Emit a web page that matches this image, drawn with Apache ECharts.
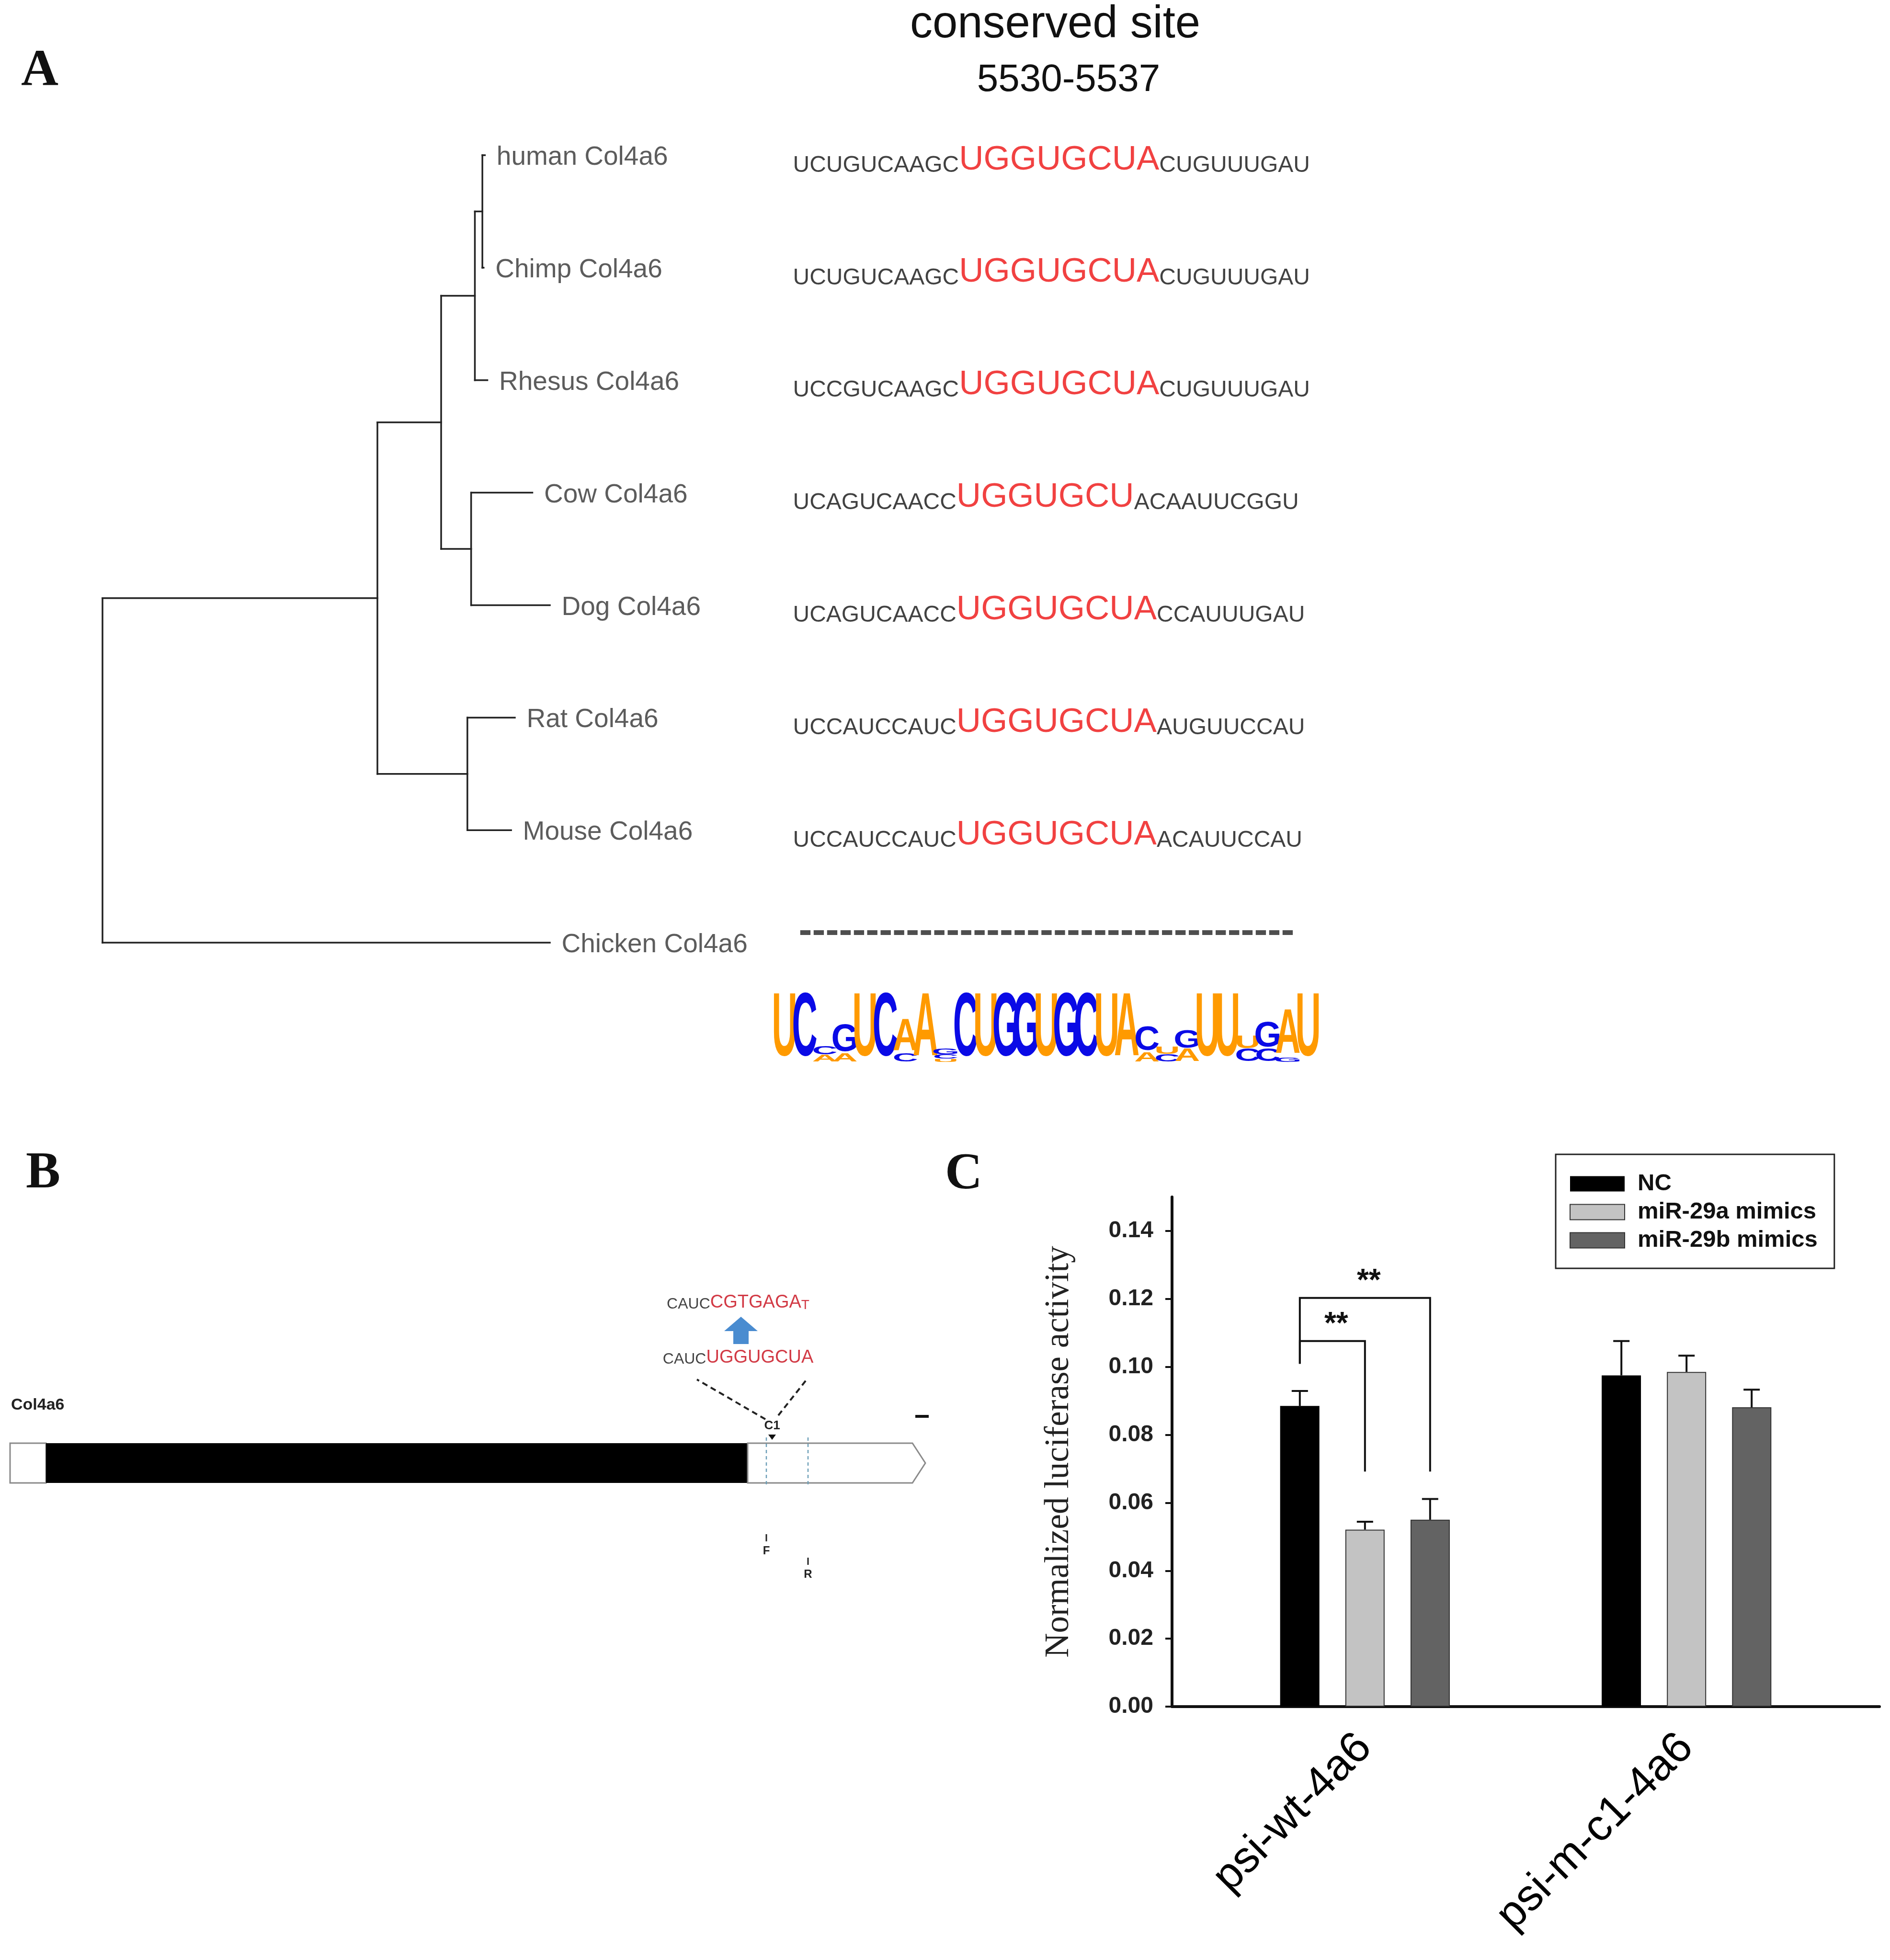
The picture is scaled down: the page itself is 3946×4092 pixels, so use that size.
<!DOCTYPE html>
<html>
<head>
<meta charset="utf-8">
<script src="https://cdn.jsdelivr.net/npm/echarts@6/dist/echarts.min.js"></script>
<style>
html, body { margin: 0; padding: 0; background: #fff; }
#main { width: 3946px; height: 4092px; }
</style>
</head>
<body>
<div id="main"></div>
<script>
// ---------- panel A : tree + alignment ----------
const taxa = ['human Col4a6', 'Chimp Col4a6', 'Rhesus Col4a6', 'Cow Col4a6', 'Dog Col4a6', 'Rat Col4a6', 'Mouse Col4a6', 'Chicken Col4a6'];
const tipDepth = [306, 305, 308, 344, 358, 330, 327, 358];
// internal nodes (id = 8 + index): [depth, child, child]
const innerNodes = [[304, 0, 1], [298, 8, 2], [295, 3, 4], [271, 9, 10], [292, 5, 6], [220, 11, 12], [0, 13, 7]];
const seqLeft = ['UCUGUCAAGC', 'UCUGUCAAGC', 'UCCGUCAAGC', 'UCAGUCAACC', 'UCAGUCAACC', 'UCCAUCCAUC', 'UCCAUCCAUC', '-------------------------------------'];
const seqSite = ['UGGUGCUA', 'UGGUGCUA', 'UGGUGCUA', 'UGGUGCU', 'UGGUGCUA', 'UGGUGCUA', 'UGGUGCUA', ''];
const seqRight = ['CUGUUUGAU', 'CUGUUUGAU', 'CUGUUUGAU', 'ACAAUUCGGU', 'CCAUUUGAU', 'AUGUUCCAU', 'ACAUUCCAU', ''];
// sequence logo, each column bottom -> top : [letter, relative height]
const logoColumns = [
  [['U', 1]], [['C', 1]], [['A', 0.11], ['C', 0.13]], [['A', 0.13], ['G', 0.43]],
  [['U', 1]], [['C', 1]], [['C', 0.13], ['A', 0.5]], [['A', 1]],
  [['U', 0.05], ['C', 0.07], ['G', 0.09]], [['C', 1]], [['U', 1]], [['G', 1]],
  [['G', 1]], [['U', 1]], [['G', 1]], [['C', 1]], [['U', 1]], [['A', 1]],
  [['A', 0.15], ['C', 0.38]], [['C', 0.12], ['U', 0.12]], [['A', 0.2], ['G', 0.28]],
  [['U', 1]], [['U', 1]], [['C', 0.2], ['U', 0.2]], [['C', 0.2], ['G', 0.4]],
  [['G', 0.07], ['A', 0.7]], [['U', 1]]
];

// ---------- panel B : gene map ----------
const geneParts = [['utr5', 0, 75], ['cds', 75, 1540], ['utr3', 1540, 1911]];
const sites = [['C1', 1591]];
const siteWild = ['CAUC', 'UGGUGCUA'];
const siteMutant = ['CAUC', 'CGTGAGA', 'T'];
const primers = [['F', 1579, 0], ['R', 1666, 1]];

// ---------- panel C : luciferase ----------
const constructs = ['psi-wt-4a6', 'psi-m-c1-4a6'];
const groups = ['NC', 'miR-29a mimics', 'miR-29b mimics'];
const meanNC = [0.0885, 0.0975];
const mean29a = [0.0521, 0.0985];
const mean29b = [0.0550, 0.0881];
const errNC = [0.0044, 0.0101];
const err29a = [0.0023, 0.0048];
const err29b = [0.0061, 0.0052];
// [construct, fromBar, toBar, top, leftEnd, rightEnd, mark]
const brackets = [[1, 0, 1, 0.1076, 0.1009, 0.0692, '**'], [1, 0, 2, 0.1203, 0.1009, 0.0692, '**']];
const yTicks = [0, 0.02, 0.04, 0.06, 0.08, 0.10, 0.12, 0.14];

const sans = "'Liberation Sans', Arial, sans-serif";
const serif = "'Liberation Serif', 'Times New Roman', serif";

// tree layout: node y = mean of children
const nodeX = {}, nodeY = {};
taxa.forEach((t, i) => { nodeX[i] = tipDepth[i]; nodeY[i] = i; });
innerNodes.forEach((n, k) => { nodeX[8 + k] = n[0]; nodeY[8 + k] = (nodeY[n[1]] + nodeY[n[2]]) / 2; });
const treeSegments = [];
innerNodes.forEach(n => {
  treeSegments.push([n[0], nodeY[n[1]], n[0], nodeY[n[2]]]);
  [n[1], n[2]].forEach(c => treeSegments.push([n[0], nodeY[c], nodeX[c], nodeY[c]]));
});

const logoItems = [];
logoColumns.forEach((stack, c) => {
  let y0 = 0;
  stack.forEach(([ch, h]) => { logoItems.push([c + 1, y0, h, ch]); y0 += h; });
});

const barMeans = [meanNC, mean29a, mean29b];
const barErrs = [errNC, err29a, err29b];
const barColors = ['#000000', '#c3c3c3', '#636363'];
const barStep = 136;   // bar width + gap in px
const errItems = [];
barMeans.forEach((m, s) => m.forEach((v, g) => errItems.push([g + 1, v, barErrs[s][g], s])));

function hiddenAxis(gridIndex, min, max, inverse) {
  return { type: 'value', gridIndex: gridIndex, min: min, max: max, inverse: !!inverse, show: false, splitLine: { show: false } };
}

const myChart = echarts.init(document.getElementById('main'));

const option = {
  animation: false,
  backgroundColor: '#ffffff',
  grid: [
    { left: 214, top: 324, width: 934, height: 1644 },     // tree
    { left: 1655, top: 324, width: 1100, height: 1644 },   // alignment
    { left: 1617, top: 2084, width: 1135, height: 134 },   // logo
    { left: 21, top: 3013, width: 1920, height: 83 },      // gene map
    { left: 2447, top: 2499, width: 1477, height: 1064 }   // bar chart
  ],
  xAxis: [
    hiddenAxis(0, 0, 358),
    hiddenAxis(1, 0, 1),
    hiddenAxis(2, 0.5, 27.5),
    hiddenAxis(3, 0, 1920),
    {
      type: 'value', gridIndex: 4, min: 0.4, max: 2.6,
      axisLine: { show: true, onZero: false, lineStyle: { color: '#111', width: 6 } },
      axisTick: { show: false },
      splitLine: { show: false },
      axisLabel: {
        customValues: [1, 2],
        formatter: v => (Math.abs(v - Math.round(v)) < 1e-6 && constructs[Math.round(v) - 1]) || '',
        rotate: 45, margin: 72, fontSize: 92, fontFamily: sans, color: '#000'
      }
    }
  ],
  yAxis: [
    hiddenAxis(0, 0, 7, true),
    hiddenAxis(1, 0, 7, true),
    hiddenAxis(2, 0, 1),
    hiddenAxis(3, 0, 1),
    {
      type: 'value', gridIndex: 4, min: 0, max: 0.15, interval: 0.02,
      axisLine: { show: true, lineStyle: { color: '#111', width: 6 } },
      axisTick: { show: true, length: 14, customValues: yTicks, lineStyle: { color: '#111', width: 4 } },
      splitLine: { show: false },
      axisLabel: {
        customValues: yTicks,
        formatter: v => (v > 0.145 ? '' : v.toFixed(2)),
        margin: 39, fontSize: 48, fontWeight: 'bold', fontFamily: sans, color: '#222'
      },
      name: 'Normalized luciferase activity',
      nameLocation: 'middle', nameGap: 200,
      nameTextStyle: { fontFamily: serif, fontSize: 71, color: '#222' }
    }
  ],
  legend: {
    data: groups, orient: 'vertical', left: 3248, top: 2410,
    icon: 'rect', itemWidth: 114, itemHeight: 32, itemGap: 10,
    padding: [37, 35, 34, 29], borderColor: '#222', borderWidth: 3,
    selectedMode: false,
    textStyle: { fontSize: 49, fontWeight: 'bold', fontFamily: sans, color: '#111', padding: [0, 0, 0, 22] }
  },
  graphic: [
    { type: 'text', x: 83, y: 150, style: { text: 'A', font: 'bold 108px ' + serif, fill: '#111', align: 'center', verticalAlign: 'middle' } },
    { type: 'text', x: 90, y: 2451, style: { text: 'B', font: 'bold 108px ' + serif, fill: '#111', align: 'center', verticalAlign: 'middle' } },
    { type: 'text', x: 2012, y: 2453, style: { text: 'C', font: 'bold 108px ' + serif, fill: '#111', align: 'center', verticalAlign: 'middle' } },
    { type: 'text', x: 2203, y: 52, style: { text: 'conserved site', font: '94px ' + sans, fill: '#111', align: 'center', verticalAlign: 'middle' } },
    { type: 'text', x: 2231, y: 168, style: { text: '5530-5537', font: '80px ' + sans, fill: '#111', align: 'center', verticalAlign: 'middle' } },
    { type: 'text', x: 23, y: 2934, style: { text: 'Col4a6', font: 'bold 34px ' + sans, fill: '#222', align: 'left', verticalAlign: 'middle' } },
    { type: 'line', shape: { x1: 1911, y1: 2957, x2: 1939, y2: 2957 }, style: { stroke: '#111', lineWidth: 6 } }
  ],
  series: [
    // tree branches
    {
      type: 'custom', xAxisIndex: 0, yAxisIndex: 0, silent: true, data: treeSegments,
      encode: { x: [0, 2], y: [1, 3] },
      renderItem: (params, api) => {
        const a = api.coord([api.value(0), api.value(1)]);
        const b = api.coord([api.value(2), api.value(3)]);
        return { type: 'line', shape: { x1: a[0], y1: a[1], x2: b[0], y2: b[1] }, style: { stroke: '#222', lineWidth: 3.5, lineCap: 'square' } };
      }
    },
    // taxon names
    {
      type: 'scatter', xAxisIndex: 0, yAxisIndex: 0, silent: true,
      data: tipDepth.map((d, i) => [d, i]),
      symbolSize: 1, itemStyle: { color: 'transparent' },
      label: {
        show: true, position: 'right', distance: 24, offset: [0, 5],
        formatter: p => taxa[p.dataIndex],
        fontSize: 55, fontFamily: sans, color: '#333'
      }
    },
    // aligned sequences
    {
      type: 'scatter', xAxisIndex: 1, yAxisIndex: 1, silent: true,
      data: seqLeft.map((s, i) => (s.charAt(0) === '-'
        ? { value: [0, i], label: { offset: [12, -22] } }
        : { value: [0, i] })),
      symbolSize: 1, itemStyle: { color: 'transparent' },
      label: {
        show: true, position: 'right', distance: 0, offset: [0, 10],
        formatter: p => {
          const i = p.dataIndex;
          if (seqLeft[i].charAt(0) === '-') return '{g|' + seqLeft[i] + '}';
          return '{s|' + seqLeft[i] + '}{r|' + seqSite[i] + '}{s|' + seqRight[i] + '}';
        },
        rich: {
          s: { fontSize: 48, fontFamily: sans, color: '#111', verticalAlign: 'bottom' },
          r: { fontSize: 71, fontFamily: sans, color: '#ee1111', verticalAlign: 'bottom' },
          g: { fontSize: 84, fontFamily: sans, fontWeight: 'bold', color: '#222' }
        }
      }
    },
    // sequence logo
    {
      type: 'custom', xAxisIndex: 2, yAxisIndex: 2, silent: true,
      data: logoItems.map(d => [d[0], d[1], d[2]]),
      encode: { x: 0, y: 1 },
      renderItem: (params, api) => {
        const it = logoItems[params.dataIndex];
        const p0 = api.coord([it[0], it[1]]);
        const p1 = api.coord([it[0], it[1] + it[2]]);
        const hPx = p0[1] - p1[1];
        const orange = it[3] === 'A' || it[3] === 'U';
        return {
          type: 'text', x: p0[0], y: (p0[1] + p1[1]) / 2, scaleX: 1.15, scaleY: hPx / 45.8,
          style: { text: it[3], fontSize: 64, fontWeight: 'bold', fontFamily: sans, fill: orange ? '#ff9a00' : '#0a0ae6', align: 'center', verticalAlign: 'middle' }
        };
      }
    },
    // gene structure
    {
      type: 'custom', xAxisIndex: 3, yAxisIndex: 3, silent: true,
      data: geneParts.map(d => [d[1], d[2]]),
      encode: { x: [0, 1] },
      renderItem: (params, api) => {
        const kind = geneParts[params.dataIndex][0];
        const a = api.coord([api.value(0), 1]);
        const b = api.coord([api.value(1), 0]);
        if (kind === 'utr3') {
          const mid = (a[1] + b[1]) / 2;
          return { type: 'polygon', shape: { points: [[a[0], a[1]], [b[0] - 27, a[1]], [b[0], mid], [b[0] - 27, b[1]], [a[0], b[1]]] }, style: { fill: '#fff', stroke: '#8a8a8a', lineWidth: 3 } };
        }
        return {
          type: 'rect', shape: { x: a[0], y: a[1], width: b[0] - a[0], height: b[1] - a[1] },
          style: kind === 'cds' ? { fill: '#000' } : { fill: '#fff', stroke: '#8a8a8a', lineWidth: 3 }
        };
      }
    },
    // primers F / R
    {
      type: 'custom', xAxisIndex: 3, yAxisIndex: 3, silent: true,
      data: primers.map(d => [d[1], d[2]]),
      encode: { x: 0 },
      renderItem: (params, api) => {
        const x = api.coord([api.value(0), 1])[0];
        const top = api.coord([0, 1])[1];
        const bot = api.coord([0, 0])[1];
        const dy = api.value(1) * 49;
        return {
          type: 'group', children: [
            { type: 'line', shape: { x1: x, y1: top - 12, x2: x, y2: bot + 8 }, style: { stroke: '#6d9fb8', lineWidth: 2.5, lineDash: [7, 6] } },
            { type: 'line', shape: { x1: x, y1: bot + 107 + dy, x2: x, y2: bot + 122 + dy }, style: { stroke: '#222', lineWidth: 3 } },
            { type: 'text', x: x, y: bot + 142 + dy, style: { text: primers[params.dataIndex][0], font: 'bold 24px ' + sans, fill: '#222', align: 'center', verticalAlign: 'middle' } }
          ]
        };
      }
    },
    // target site C1 with wild-type / mutant sequences
    {
      type: 'custom', xAxisIndex: 3, yAxisIndex: 3, silent: true,
      data: sites.map(d => [d[1]]),
      encode: { x: 0 },
      renderItem: (params, api) => {
        const sx = api.coord([api.value(0), 1])[0];
        const ty = api.coord([0, 1])[1];
        const ax = sx - 65, aTop = ty - 264, aBot = ty - 207;
        const rich = {
          k: { fontSize: 32, fontFamily: sans, fill: '#444', verticalAlign: 'bottom' },
          r: { fontSize: 38, fontFamily: sans, fill: '#d23a45', verticalAlign: 'bottom' },
          t: { fontSize: 28, fontFamily: sans, fill: '#d23a45', verticalAlign: 'bottom' }
        };
        return {
          type: 'group', children: [
            { type: 'polygon', shape: { points: [[sx - 8, ty - 18], [sx + 8, ty - 18], [sx, ty - 7]] }, style: { fill: '#111' } },
            { type: 'text', x: sx, y: ty - 36, style: { text: sites[params.dataIndex][0], font: 'bold 26px ' + sans, fill: '#222', align: 'center', verticalAlign: 'middle' } },
            { type: 'line', shape: { x1: sx - 14, y1: ty - 50, x2: sx - 157, y2: ty - 133 }, style: { stroke: '#222', lineWidth: 4, lineDash: [12, 8] } },
            { type: 'line', shape: { x1: sx + 13, y1: ty - 58, x2: sx + 73, y2: ty - 134 }, style: { stroke: '#222', lineWidth: 4, lineDash: [12, 8] } },
            { type: 'text', x: sx - 71, y: ty - 178, style: { text: '{k|' + siteWild[0] + '}{r|' + siteWild[1] + '}', rich: rich, align: 'center', verticalAlign: 'middle' } },
            { type: 'polygon', shape: { points: [[ax, aTop], [ax + 35, aTop + 30], [ax + 16, aTop + 30], [ax + 16, aBot], [ax - 16, aBot], [ax - 16, aTop + 30], [ax - 35, aTop + 30]] }, style: { fill: '#4a8cd0' } },
            { type: 'text', x: sx - 71, y: ty - 293, style: { text: '{k|' + siteMutant[0] + '}{r|' + siteMutant[1] + '}{t|' + siteMutant[2] + '}', rich: rich, align: 'center', verticalAlign: 'middle' } }
          ]
        };
      }
    },
    // bars
    ...groups.map((name, s) => ({
      type: 'bar', name: name, xAxisIndex: 4, yAxisIndex: 4,
      data: barMeans[s].map((v, g) => [g + 1, v]),
      barWidth: 82, barGap: '66%',
      itemStyle: s === 0 ? { color: barColors[s] } : { color: barColors[s], borderColor: '#333', borderWidth: 2 }
    })),
    // error bars (upper only)
    {
      type: 'custom', xAxisIndex: 4, yAxisIndex: 4, silent: true,
      data: errItems, encode: { x: 0, y: 1 },
      renderItem: (params, api) => {
        const g = api.value(0), m = api.value(1), e = api.value(2), s = api.value(3);
        const lo = api.coord([g, m]);
        const hi = api.coord([g, m + e]);
        const x = lo[0] + (s - 1) * barStep;
        return {
          type: 'group', children: [
            { type: 'line', shape: { x1: x, y1: lo[1], x2: x, y2: hi[1] }, style: { stroke: '#111', lineWidth: 4 } },
            { type: 'line', shape: { x1: x - 17, y1: hi[1], x2: x + 17, y2: hi[1] }, style: { stroke: '#111', lineWidth: 4 } }
          ]
        };
      }
    },
    // significance brackets
    {
      type: 'custom', xAxisIndex: 4, yAxisIndex: 4, silent: true,
      data: brackets.map(b => [b[0], b[3]]), encode: { x: 0, y: 1 },
      renderItem: (params, api) => {
        const b = brackets[params.dataIndex];
        const base = api.coord([b[0], 0])[0];
        const xL = base + (b[1] - 1) * barStep;
        const xR = base + (b[2] - 1) * barStep;
        const yT = api.coord([b[0], b[3]])[1];
        const yL = api.coord([b[0], b[4]])[1];
        const yR = api.coord([b[0], b[5]])[1];
        return {
          type: 'group', children: [
            { type: 'polyline', shape: { points: [[xL, yL], [xL, yT], [xR, yT], [xR, yR]] }, style: { stroke: '#111', lineWidth: 4, fill: null } },
            { type: 'text', x: (xL + xR) / 2 + 8, y: yT - 33, style: { text: b[6], font: 'bold 64px ' + sans, fill: '#111', align: 'center', verticalAlign: 'middle' } }
          ]
        };
      }
    }
  ]
};

myChart.setOption(option);
</script>
</body>
</html>
